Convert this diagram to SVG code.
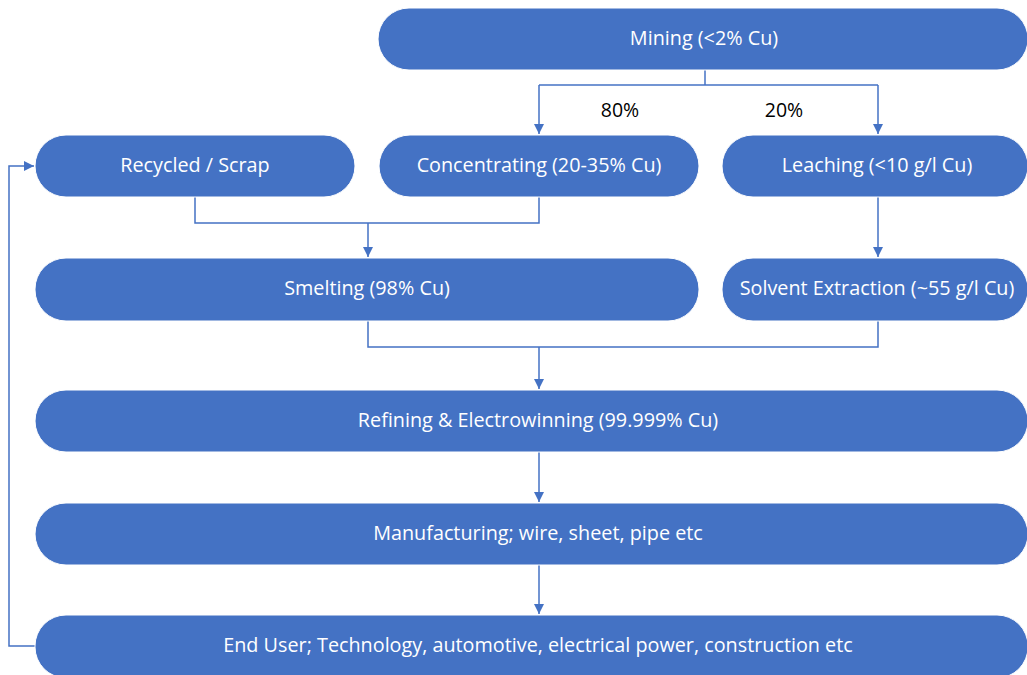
<svg xmlns="http://www.w3.org/2000/svg" width="1027" height="675" viewBox="0 0 1027 675">
<defs>
<marker id="ah" viewBox="0 0 10 10" refX="10" refY="5" markerWidth="10" markerHeight="10" markerUnits="userSpaceOnUse" orient="auto">
<path d="M0,0 L10,5 L0,10 z" fill="#4472C4"/>
</marker>
</defs>
<style>
.n rect{fill:#4472C4;stroke:#ffffff;stroke-width:1}
.n text{fill:#ffffff;font-family:"Open Sans","Liberation Sans",sans-serif;font-size:19.8px;text-anchor:middle;dominant-baseline:central}
.c path{fill:none;stroke:#4472C4;stroke-width:1.5}
.lbl{fill:#000000;font-family:"Open Sans","Liberation Sans",sans-serif;font-size:19.5px;text-anchor:middle;dominant-baseline:central}
</style>
<rect width="1027" height="675" fill="#ffffff"/>
<g id="connectors" class="c">
<path d="M705,70 V85"/>
<path d="M539,85 H878"/>
<path d="M539,85 V134" marker-end="url(#ah)"/>
<path d="M878,85 V134" marker-end="url(#ah)"/>
<path d="M195,197 V223 H539 V197"/>
<path d="M368,223 V257" marker-end="url(#ah)"/>
<path d="M878,197 V257" marker-end="url(#ah)"/>
<path d="M368,321 V347 H878 V321"/>
<path d="M539,347 V389" marker-end="url(#ah)"/>
<path d="M539,452 V502" marker-end="url(#ah)"/>
<path d="M539,565 V614" marker-end="url(#ah)"/>
<path d="M35,646 H9 V166 H34" marker-end="url(#ah)"/>
</g>
<text class="lbl" x="620" y="109">80%</text>
<text class="lbl" x="784" y="109">20%</text>
<g id="mining" class="n"><rect x="378" y="8" width="650" height="62" rx="31"/><text x="704" y="37">Mining (&lt;2% Cu)</text></g>
<g id="recycled" class="n"><rect x="35" y="135" width="320" height="62" rx="31"/><text x="195" y="164">Recycled / Scrap</text></g>
<g id="concentrating" class="n"><rect x="379" y="135" width="320" height="62" rx="31"/><text x="539" y="164">Concentrating (20-35% Cu)</text></g>
<g id="leaching" class="n"><rect x="722" y="135" width="306" height="62" rx="31"/><text x="877" y="164">Leaching (&lt;10 g/l Cu)</text></g>
<g id="smelting" class="n"><rect x="35" y="258" width="664" height="63" rx="31"/><text x="367" y="287">Smelting (98% Cu)</text></g>
<g id="solvent" class="n"><rect x="722" y="258" width="306" height="63" rx="31"/><text x="877" y="287">Solvent Extraction (~55 g/l Cu)</text></g>
<g id="refining" class="n"><rect x="35" y="390" width="993" height="62" rx="31"/><text x="538" y="419">Refining &amp; Electrowinning (99.999% Cu)</text></g>
<g id="manufacturing" class="n"><rect x="35" y="503" width="993" height="62" rx="31"/><text x="538" y="532">Manufacturing; wire, sheet, pipe etc</text></g>
<g id="enduser" class="n"><rect x="35" y="615" width="993" height="63" rx="31"/><text x="538" y="644">End User; Technology, automotive, electrical power, construction etc</text></g>
</svg>
